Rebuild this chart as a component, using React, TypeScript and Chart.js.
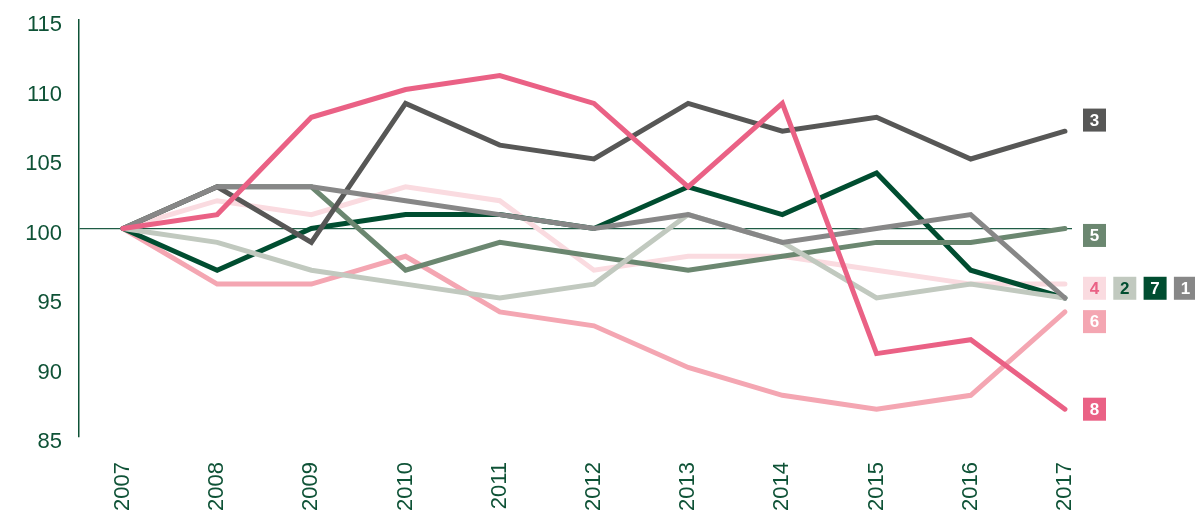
import React, { useEffect, useRef } from "react";
import { Chart, registerables } from "chart.js";

Chart.register(...registerables);

const years = [2007, 2008, 2009, 2010, 2011, 2012, 2013, 2014, 2015, 2016, 2017];
const yTicks = [85, 90, 95, 100, 105, 110, 115];

const series1 = [100, 103, 103, 102, 101, 100, 101, 99, 100, 101, 95];
const series2 = [100, 99, 97, 96, 95, 96, 101, 99, 95, 96, 95];
const series3 = [100, 103, 99, 109, 106, 105, 109, 107, 108, 105, 107];
const series4 = [100, 102, 101, 103, 102, 97, 98, 98, 97, 96, 96];
const series5 = [100, 103, 103, 97, 99, 98, 97, 98, 99, 99, 100];
const series6 = [100, 96, 96, 98, 94, 93, 90, 88, 87, 88, 94];
const series7 = [100, 97, 100, 101, 101, 100, 103, 101, 104, 97, 95];
const series8 = [100, 101, 108, 110, 111, 109, 103, 109, 91, 92, 87];

const seriesNames = ["1", "2", "3", "4", "5", "6", "7", "8"];
const seriesColors = ["#878787", "#c1c9bf", "#575756", "#fadbe0", "#6b8770", "#f4a6b2", "#004d30", "#ea6185"];
const seriesOrder = [2, 4, 3, 8, 5, 7, 6, 1];

// end labels: value position (y) and column in the row
const labelValues = [95.7, 95.7, 107.8, 95.7, 99.5, 93.3, 95.7, 87.0];
const labelColumns = [3, 1, 0, 0, 0, 0, 2, 0];
const labelTextColors = ["#ffffff", "#004d30", "#ffffff", "#ea6185", "#ffffff", "#ffffff", "#ffffff", "#ffffff"];

const allSeries = [series1, series2, series3, series4, series5, series6, series7, series8];

const TEXT = "#0e5236";

const endLabels = {
  id: "endLabels",
  afterDatasetsDraw(chart: any) {
    const { ctx, chartArea, scales } = chart;
    const size = 23;
    ctx.save();
    ctx.font = "bold 17px 'Liberation Sans', Arial, sans-serif";
    ctx.textAlign = "center";
    ctx.textBaseline = "middle";
    seriesNames.forEach((name, i) => {
      const cy = scales.y.getPixelForValue(labelValues[i]);
      const left = chartArea.right + 11 + labelColumns[i] * 30.3;
      ctx.fillStyle = seriesColors[i];
      ctx.fillRect(left, cy - size / 2, size, size);
      ctx.fillStyle = labelTextColors[i];
      ctx.fillText(name, left + size / 2, cy + 1);
    });
    ctx.restore();
  },
};

export default function App() {
  const canvasRef = useRef<HTMLCanvasElement | null>(null);

  useEffect(() => {
    if (!canvasRef.current) return;
    const chart = new Chart(canvasRef.current, {
      type: "line",
      data: {
        datasets: allSeries.map((vals, i) => ({
          label: seriesNames[i],
          data: vals.map((v, j) => ({ x: years[j], y: v })),
          borderColor: seriesColors[i],
          backgroundColor: seriesColors[i],
          borderWidth: 5,
          pointRadius: 0,
          borderCapStyle: "round",
          borderJoinStyle: "miter",
          tension: 0,
          order: seriesOrder[i],
        })),
      },
      options: {
        animation: false,
        responsive: false,
        maintainAspectRatio: false,
        layout: { padding: { top: 20, right: 123, bottom: 0, left: 0 } },
        plugins: {
          legend: { display: false },
          tooltip: { enabled: false },
        },
        scales: {
          x: {
            type: "linear",
            min: 2006.533,
            max: 2017.075,
            afterFit: (s: any) => {
              s.height = 78;
              s.paddingLeft = 0;
              s.paddingRight = 0;
            },
            afterBuildTicks: (s: any) => {
              s.ticks = years.map((y) => ({ value: y }));
            },
            grid: { display: false, drawTicks: false },
            border: { display: false },
            ticks: {
              autoSkip: false,
              minRotation: 90,
              maxRotation: 90,
              padding: 25,
              color: TEXT,
              font: { family: "'Liberation Sans', Arial, sans-serif", size: 22 },
              callback: (v: any) => String(v),
            },
          },
          y: {
            min: 85,
            max: 115,
            afterFit: (s: any) => {
              s.width = 79;
              s.paddingTop = 0;
              s.paddingBottom = 0;
            },
            afterBuildTicks: (s: any) => {
              s.ticks = yTicks.map((v) => ({ value: v }));
            },
            grid: {
              drawTicks: false,
              color: (c: any) => (c.tick && c.tick.value === 100 ? "#1f5c45" : "rgba(0,0,0,0)"),
              lineWidth: 1.2,
            },
            border: { display: true, color: "#0e5236", width: 1.5 },
            ticks: {
              padding: 17,
              labelOffset: 5,
              color: TEXT,
              font: { family: "'Liberation Sans', Arial, sans-serif", size: 22 },
            },
          },
        },
      },
      plugins: [endLabels],
    } as any);
    return () => chart.destroy();
  }, []);

  return (
    <div style={{ position: "fixed", left: 0, top: 0, width: 1195, height: 515, background: "#fff" }}>
      <canvas ref={canvasRef} width={1195} height={515} style={{ display: "block" }} />
    </div>
  );
}
